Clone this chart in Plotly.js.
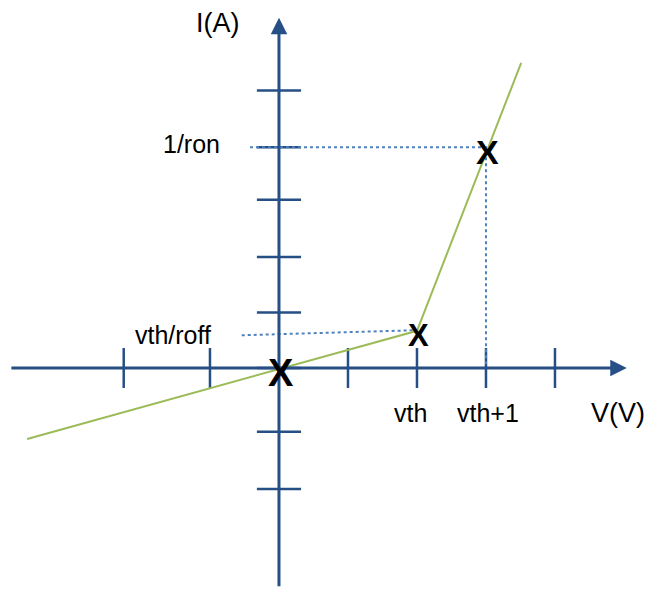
<!DOCTYPE html>
<html>
<head>
<meta charset="utf-8">
<script src="https://cdn.plot.ly/plotly-3.0.1.min.js"></script>
<style>html,body{margin:0;padding:0;background:#fff;}#chart{width:650px;height:589px;}</style>
</head>
<body>
<div id="chart"></div>
<script>
// ---- data (schematic I-V characteristic) ----
const curveV = [-3.65, 2, 3.51];          // green piecewise-linear curve, V
const curveI = [-1.28, 0.67, 5.5];        // green curve, I
const markV = [0, 2, 3];                   // "X" marked points
const markI = [0, 0.67, 3.98];
const xTickVals = [-2.25, -1, 1, 2, 3, 4];
const yTickVals = [5, 3.98, 3.03, 2, 1, 0, -1.15, -2.18];
const xTickLabelVals = [2, 3];
const xTickLabels = ["vth", "vth+1"];
const ronLevel = 3.98;                     // 1/ron
const roffLine = {v: [-0.54, 1.94], i: [0.59, 0.68]}; // vth/roff guide
const axisV = [-3.9, 5.04];
const axisI = [-3.96, 6.31];

const AX = '#264f86', GREEN = '#9bbb59', DOT = '#4f81bd';
const font = 'Liberation Sans, Arial, sans-serif';

// tick segments built from tick arrays
const txX = [], txY = [];
xTickVals.forEach(v => { txX.push(v, v, null); txY.push(-0.36, 0.36, null); });
const tyX = [], tyY = [];
yTickVals.forEach(v => { tyX.push(-0.32, 0.32, null); tyY.push(v, v, null); });

const traces = [
  {x: txX, y: txY, mode: 'lines', line: {color: AX, width: 2.5}, hoverinfo: 'skip'},
  {x: tyX, y: tyY, mode: 'lines', line: {color: AX, width: 2.5}, hoverinfo: 'skip'},
  {x: [roffLine.v[0], roffLine.v[1]], y: [roffLine.i[0], roffLine.i[1]], mode: 'lines',
   line: {color: DOT, width: 2, dash: 'dot'}, hoverinfo: 'skip'},
  {x: [-0.42, markV[2], markV[2]], y: [ronLevel, ronLevel, 0], mode: 'lines',
   line: {color: DOT, width: 2, dash: 'dot'}, hoverinfo: 'skip'},
  {x: curveV, y: curveI, mode: 'lines', line: {color: GREEN, width: 2}, hoverinfo: 'skip'}
];

const annotations = [
  // axes with arrowheads
  {x: axisV[1], y: 0, ax: axisV[0], ay: 0, xref: 'x', yref: 'y', axref: 'x', ayref: 'y',
   showarrow: true, arrowhead: 2, arrowsize: 1.1, arrowwidth: 3, arrowcolor: AX, text: ''},
  {x: 0, y: axisI[1], ax: 0, ay: axisI[0], xref: 'x', yref: 'y', axref: 'x', ayref: 'y',
   showarrow: true, arrowhead: 2, arrowsize: 1.1, arrowwidth: 3, arrowcolor: AX, text: ''},
  {x: -0.884, y: 6.22, xref: 'x', yref: 'y', text: 'I(A)', showarrow: false,
   font: {family: font, size: 27, color: '#000'}},
  {x: -1.275, y: ronLevel, xref: 'x', yref: 'y', text: '1/ron', showarrow: false, yshift: 3,
   font: {family: font, size: 25, color: '#000'}},
  {x: -1.536, y: 0.595, xref: 'x', yref: 'y', text: 'vth/roff', showarrow: false,
   font: {family: font, size: 25, color: '#000'}},
  {x: 4.9, y: -0.81, xref: 'x', yref: 'y', text: 'V(V)', showarrow: false, xshift: 1,
   font: {family: font, size: 27, color: '#000'}}
];
const labelShift = [-6, 2];
xTickLabelVals.forEach((v, k) => annotations.push({
  x: v, y: -0.81, xref: 'x', yref: 'y', text: xTickLabels[k], showarrow: false, xshift: labelShift[k],
  font: {family: font, size: 25, color: '#000'}
}));
const markSize = [38, 31, 34];
markV.forEach((v, k) => annotations.push({
  x: v, y: markI[k], xref: 'x', yref: 'y', text: '<b>X</b>', showarrow: false,
  xshift: 2, yshift: -5,
  font: {family: font, size: markSize[k], color: '#000'}
}));

const layout = {
  width: 650, height: 589,
  margin: {l: 0, r: 0, t: 0, b: 0},
  paper_bgcolor: '#fff', plot_bgcolor: '#fff',
  showlegend: false,
  xaxis: {range: [-4.043, 5.377], visible: false, fixedrange: true},
  yaxis: {range: [-3.982, 6.631], visible: false, fixedrange: true},
  annotations: annotations
};

Plotly.newPlot('chart', traces, layout, {displayModeBar: false, staticPlot: true});
</script>
</body>
</html>
